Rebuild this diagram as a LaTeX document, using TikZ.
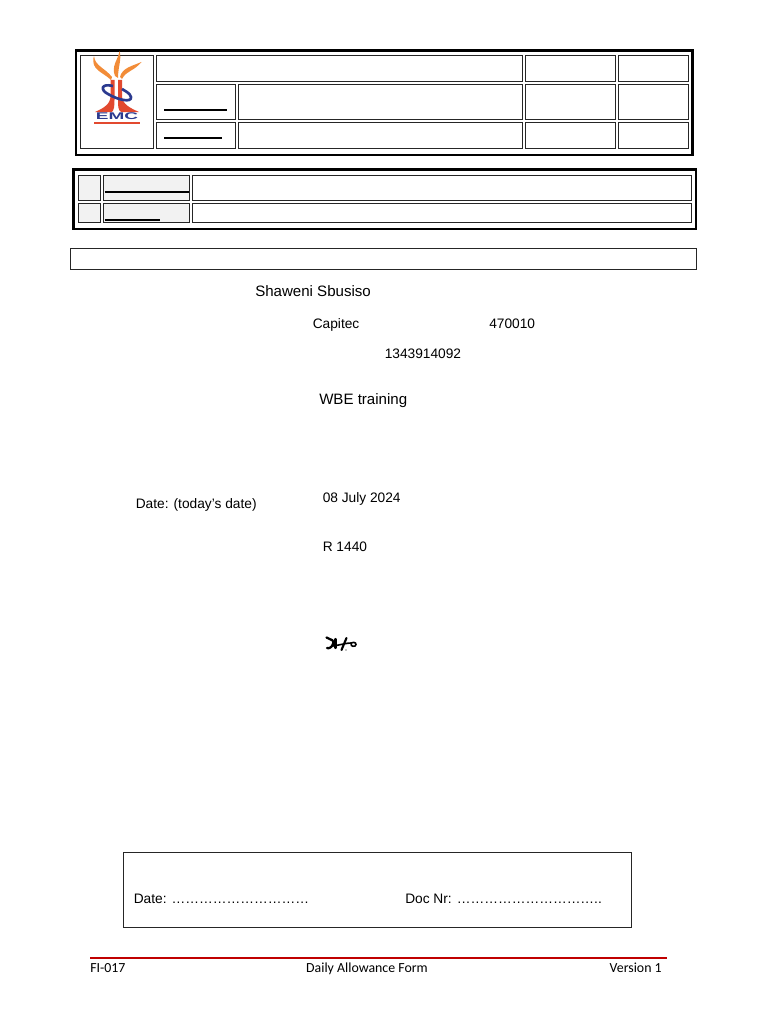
\documentclass[tikz,border=0pt]{standalone}
\usepackage{fontspec}
\setmainfont{Liberation Sans}
\newfontfamily\footfont{Carlito}
\usepackage{xcolor}
\definecolor{flame}{HTML}{F28C38}
\definecolor{emcblue}{HTML}{2B3A8F}
\definecolor{emcred}{HTML}{E2492F}
\definecolor{footred}{HTML}{C00000}
\definecolor{cellgray}{HTML}{F2F2F2}
\newcommand{\cellbox}[6][]{%
  \node[cell,#1,minimum width={(#5-#3)*0.75pt},minimum height={(#6-#4)*0.75pt}] (#2) at (#3,#4) {};}
\tikzset{
  cell/.style={draw=black!85,line width=0.75pt,anchor=north west,inner sep=0pt,outer sep=0pt},
  thickframe/.style={cell,draw=black,line width=2.2pt},
  midframe/.style={cell,draw=black,line width=1.7pt},
  grayed/.style={fill=cellgray},
  entry/.style={anchor=base west,inner sep=0pt,font=\fontsize{10.3}{12}\selectfont},
  bigentry/.style={entry,font=\fontsize{11.3}{13}\selectfont},
  footer/.style={inner sep=0pt,font=\footfont\fontsize{10.4}{12}\selectfont}
}
\begin{document}
\begin{tikzpicture}[x=0.75pt,y=-0.75pt]
  \useasboundingbox (0,0) rectangle (768,1024);
  % header table
  \cellbox[thickframe]{frameA}{76}{50.5}{692.5}{155}
  \cellbox{logocell}{80.5}{56}{153}{148}
  \cellbox{titlecell}{156}{56}{522.5}{82}
  \cellbox{midlabel}{156}{85}{235}{119}
  \cellbox{midtext}{238}{85}{522.5}{119}
  \cellbox{lowlabel}{156}{122.5}{235}{148}
  \cellbox{lowtext}{238}{122.5}{522.5}{148}
  \foreach \rowname/\ya/\yb in {a/56/82,b/85/119,c/122.5/148}{
    \cellbox{side\rowname}{525.5}{\ya}{615}{\yb}
    \cellbox{end\rowname}{618.5}{\ya}{688.5}{\yb}
  }
  \draw[line width=1.5pt] (164,109.5) -- (227,109.5);
  \draw[line width=1.5pt] (164,138) -- (222,138);
  % logo
  \fill[flame] (119.5,51) .. controls (122,60) and (118,66) .. (118,78) -- (115,76) .. controls (111,66) and (118,60) .. (119.5,51);
  \fill[flame] (94,56) .. controls (95,66) and (105,68) .. (112,77) -- (111,80) .. controls (103,72) and (90,70) .. (94,56);
  \fill[flame] (141.5,62) .. controls (133,72) and (127,70) .. (122,79) -- (120,77) .. controls (122,68) and (132,66) .. (141.5,62);
  \fill[emcred] (110.5,80) -- (114.5,80) -- (114.5,100) .. controls (114.5,106) and (114,110) .. (112,112) -- (95,112) .. controls (104,108) and (110.5,104) .. (110.5,96) -- cycle;
  \fill[emcred] (118,80) -- (122,80) -- (122,96) .. controls (122,104) and (130,108) .. (139,112) -- (121,112) .. controls (118,110) and (118,106) .. (118,100) -- cycle;
  \draw[emcblue,line width=2pt] (113,86) .. controls (101,83) and (100,90) .. (108,94) .. controls (118,100) and (132,103) .. (131,97) .. controls (130,93) and (125,91) .. (122,89);
  \node[inner sep=0pt,text=emcblue,font=\bfseries\fontsize{7.3}{8}\selectfont,xscale=1.95] (emc) at (117,116.5) {EMC};
  \fill[emcred] (94,122) rectangle (140,124);
  % second table
  \cellbox[midframe]{frameB}{73.5}{169.5}{696}{229}
  \cellbox[grayed]{numa}{78}{175}{100}{200}
  \cellbox[grayed]{laba}{103}{175}{189}{200}
  \cellbox{texta}{192}{175}{691.5}{200}
  \cellbox[grayed]{numb}{78}{203.5}{100}{222.5}
  \cellbox[grayed]{labb}{103}{203.5}{189}{222.5}
  \cellbox{textb}{192}{203.5}{691.5}{222.5}
  \draw[line width=1.5pt] (104.5,191.5) -- (189,191.5);
  \draw[line width=1.5pt] (104.5,220) -- (159.5,220);
  \cellbox{bannercell}{70.5}{248}{696}{269.5}
  % form entries
  \node[bigentry] (name) at (255,296.5) {Shaweni Sbusiso};
  \node[entry] (bank) at (312.5,328) {Capitec};
  \node[entry] (branch) at (489,328) {470010};
  \node[entry] (account) at (384.5,358) {1343914092};
  \node[bigentry] (reason) at (319,404) {WBE training};
  \node[entry] (datelabel) at (135.5,508) {Date: (today's date)};
  \node[entry] (datevalue) at (322.5,502) {08 July 2024};
  \node[entry] (amount) at (322.5,551.5) {R 1440};
  % signature
  \draw[black,line width=1.7pt,line cap=round,line join=round] (326.5,637.5) .. controls (331,640) and (335,640) .. (333,644) .. controls (332,647) and (329,649) .. (327,648);
  \draw[black,line width=1.6pt,line cap=round] (335.5,639) -- (335.5,648);
  \draw[black,line width=1.6pt,line cap=round] (341.5,650) -- (346.5,638);
  \draw[black,line width=1.2pt] (333,646) .. controls (340,645) and (346,643) .. (351,643) .. controls (355,641) and (357.5,644) .. (355,646) .. controls (352,647) and (350,645) .. (351,643);
  \fill (346,650) circle (0.7);
  % office use box
  \cellbox{officebox}{123.5}{852.5}{631}{927}
  \node[entry] (officedate) at (133.5,903) {Date: …………………………};
  \node[entry] (officedoc) at (405,903) {Doc Nr: …………………………..};
  % footer
  \coordinate (footleft) at (90,957.5);
  \coordinate (footright) at (667,957.5);
  \draw[footred,line width=1.5pt] (footleft) -- (footright);
  \node[footer,anchor=base west] (formno) at (90,972.5) {FI-017};
  \node[footer,anchor=base] (formname) at (367,972.5) {Daily Allowance Form};
  \node[footer,anchor=base east] (version) at (662,972.5) {Version 1};
\end{tikzpicture}
\end{document}
